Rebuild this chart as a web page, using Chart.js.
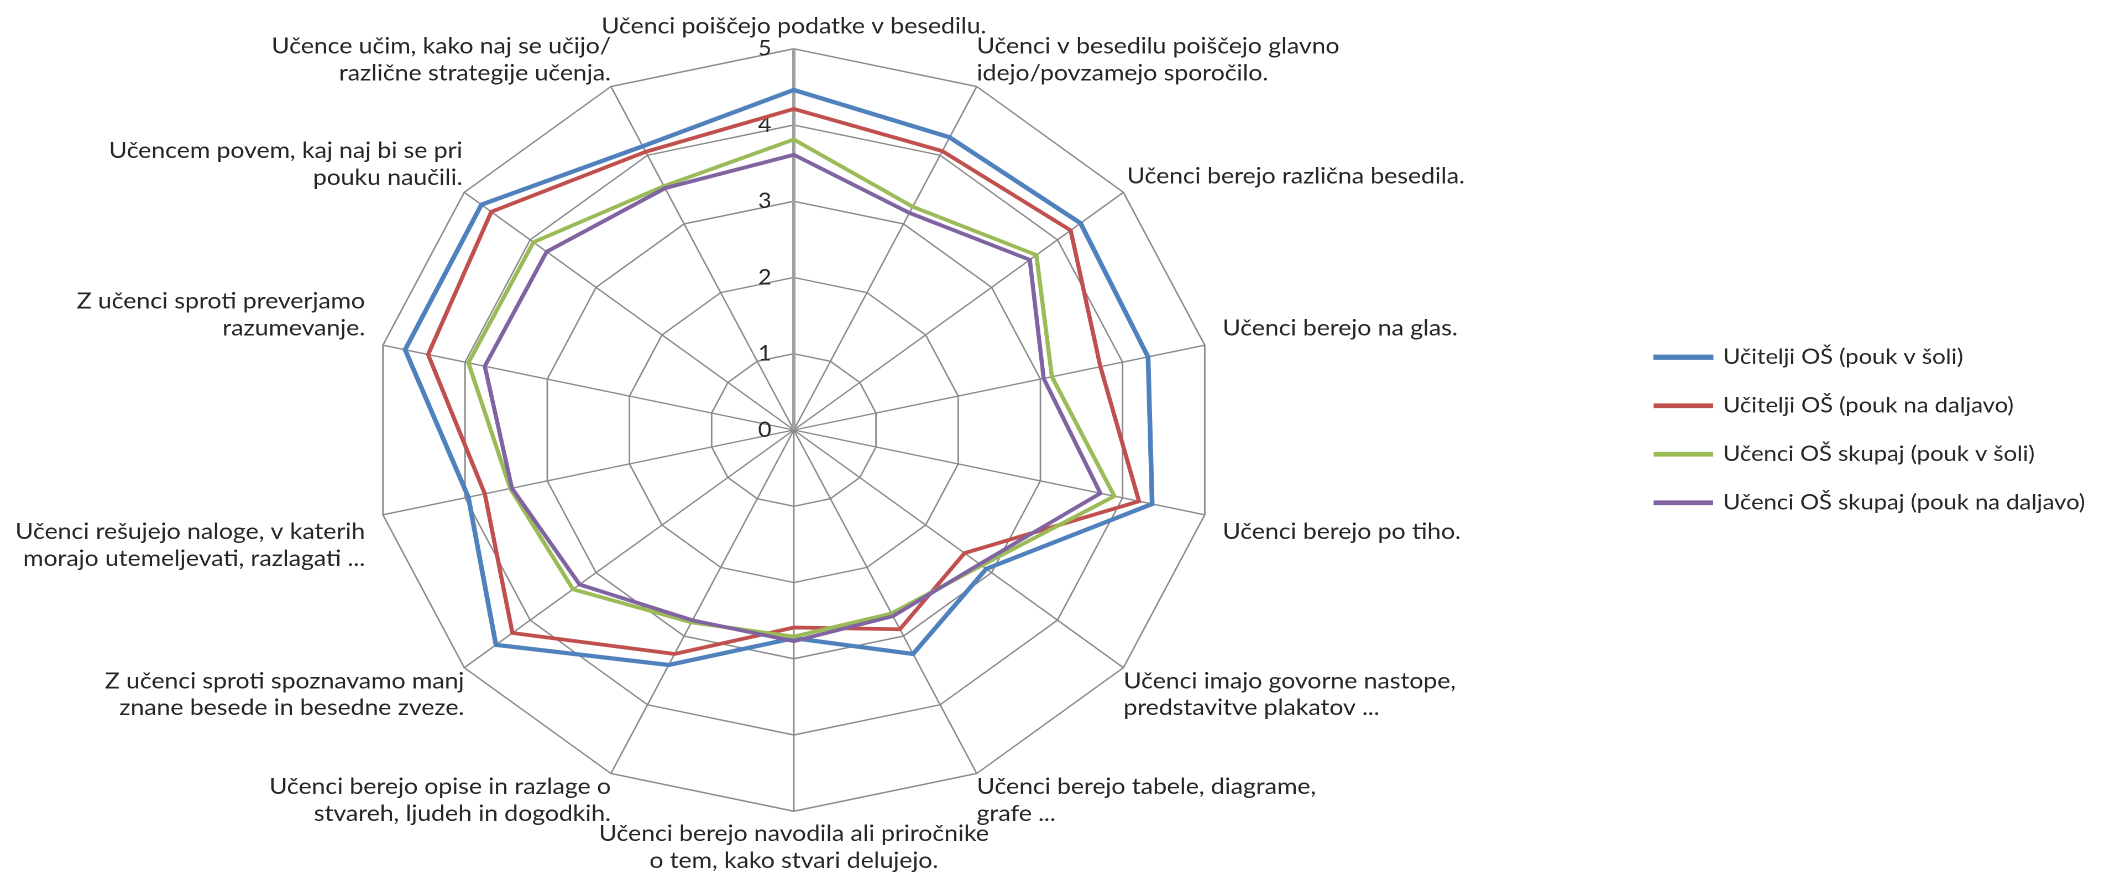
<!DOCTYPE html>
<html>
<head>
<meta charset="utf-8">
<script src="https://cdn.jsdelivr.net/npm/chart.js@4.4.1/dist/chart.umd.min.js"></script>
<style>
html, body { margin: 0; padding: 0; background: #ffffff; overflow: hidden; }
#wrap { position: absolute; left: 0; top: 0; width: 1942px; height: 887px; transform: translateX(-38.7px) scaleX(1.1056); transform-origin: 0 0; }
</style>
</head>
<body>
<div id="wrap"><canvas id="c"></canvas></div>
<script>
// ---- data ----
const categories = [
  'Učenci poiščejo podatke v besedilu.',
  ['Učenci v besedilu poiščejo glavno', 'idejo/povzamejo sporočilo.'],
  'Učenci berejo različna besedila.',
  'Učenci berejo na glas.',
  'Učenci berejo po tiho.',
  ['Učenci imajo govorne nastope,', 'predstavitve plakatov ...'],
  ['Učenci berejo tabele, diagrame,', 'grafe ...'],
  ['Učenci berejo navodila ali priročnike', 'o tem, kako stvari delujejo.'],
  ['Učenci berejo opise in razlage o', 'stvareh, ljudeh in dogodkih.'],
  ['Z učenci sproti spoznavamo manj', 'znane besede in besedne zveze.'],
  ['Učenci rešujejo naloge, v katerih', 'morajo utemeljevati, razlagati ...'],
  ['Z učenci sproti preverjamo', 'razumevanje.'],
  ['Učencem povem, kaj naj bi se pri', 'pouku naučili.'],
  ['Učence učim, kako naj se učijo/', 'različne strategije učenja.']
];
const seriesNames = [
  'Učitelji OŠ (pouk v šoli)',
  'Učitelji OŠ (pouk na daljavo)',
  'Učenci OŠ skupaj (pouk v šoli)',
  'Učenci OŠ skupaj (pouk na daljavo)'
];
const teachersSchool  = [4.46, 4.26, 4.35, 4.31, 4.36, 2.92, 3.26, 2.73, 3.42, 4.52, 3.96, 4.73, 4.74, 4.13];
const teachersRemote  = [4.21, 4.06, 4.20, 3.73, 4.20, 2.59, 2.90, 2.59, 3.26, 4.27, 3.76, 4.45, 4.59, 4.05];
const pupilsSchool    = [3.81, 3.25, 3.68, 3.14, 3.90, 2.85, 2.67, 2.71, 2.80, 3.35, 3.45, 3.96, 3.95, 3.55];
const pupilsRemote    = [3.61, 3.16, 3.58, 3.04, 3.73, 2.82, 2.71, 2.77, 2.77, 3.25, 3.43, 3.76, 3.75, 3.52];
const seriesValues = [teachersSchool, teachersRemote, pupilsSchool, pupilsRemote];
const axisMin = 0;
const axisMax = 5;
const axisStep = 1;

// ---- styles ----
const colors = ['#4f81bd', '#c0504d', '#9bbb59', '#8064a2'];
const widths = [4.3, 3.8, 3.8, 3.8];
const labelGaps = [-1.5, -10.5, -6.5, 6, 6, -10.5, -10.5, -1.5, -10.5, -10.5, 6, 6, -8.5, -10.5];
const FONT = 'Lato, "Noto Sans", sans-serif';
const TEXT = '#262626';

const datasets = seriesValues.map((vals, i) => ({
  label: seriesNames[i],
  data: vals,
  borderColor: colors[i],
  backgroundColor: colors[i],
  borderWidth: widths[i],
  fill: false,
  order: seriesValues.length - 1 - i
}));

new Chart(document.getElementById('c'), {
  type: 'radar',
  data: { labels: categories, datasets: datasets },
  options: {
    responsive: true,
    maintainAspectRatio: false,
    animation: false,
    devicePixelRatio: 2,
    events: [],
    layout: { padding: { left: 0, right: 11, top: 0, bottom: 0 } },
    elements: {
      line: { tension: 0 },
      point: { radius: 0, hoverRadius: 0 }
    },
    plugins: {
      legend: {
        position: 'right',
        align: 'start',
        title: { display: true, text: ' ', font: { size: 10 }, padding: { top: 307.5, bottom: 0 } },
        labels: {
          boxWidth: 50,
          boxHeight: 1,
          padding: 27,
          color: TEXT,
          font: { family: FONT, size: 21.5 },
          sort: (a, b) => a.datasetIndex - b.datasetIndex
        }
      },
      tooltip: { enabled: false }
    },
    scales: {
      r: {
        min: axisMin - 0.0001,
        max: axisMax,
        ticks: {
          stepSize: axisStep,
          showLabelBackdrop: false,
          color: TEXT,
          font: { family: FONT, size: 21 },
          backdropPadding: 0,
          callback: (value, index, ticks) => {
            if (value < 0 && ticks.length > 1 && Math.abs(ticks[1].value) < 1e-9) return '';
            return String(Math.round(value)) + '\u2002\u2002\u2002\u2002\u2002';
          }
        },
        grid: { color: '#8a8a8a', lineWidth: 1.4, circular: false },
        angleLines: {
          color: (c) => (c.index === 0 ? '#a0a0a0' : '#8a8a8a'),
          lineWidth: (c) => (c.index === 0 ? 3 : 1.4)
        },
        pointLabels: {
          color: TEXT,
          font: { family: FONT, size: 22.4, lineHeight: 1.2 },
          padding: (c) => labelGaps[c.index]
        }
      }
    }
  }
});
</script>
</body>
</html>
